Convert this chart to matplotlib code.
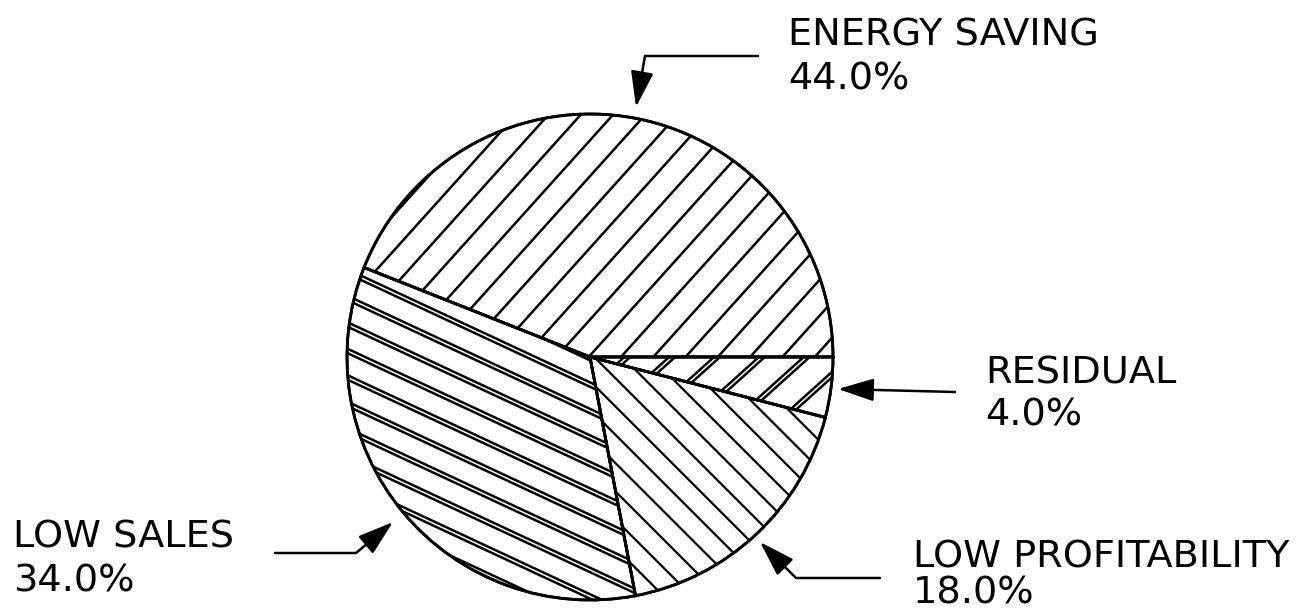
import numpy as np
import matplotlib
matplotlib.use("Agg")
import matplotlib.pyplot as plt
from matplotlib.collections import LineCollection
from matplotlib.patches import Wedge

# ---- data ----
labels = ["ENERGY SAVING", "LOW SALES", "LOW PROFITABILITY", "RESIDUAL"]
values = [44.0, 34.0, 18.0, 4.0]
pct_labels = ["44.0%", "34.0%", "18.0%", "4.0%"]

W, H = 1300, 615
fig = plt.figure(figsize=(W / 100, H / 100), dpi=100)
ax = fig.add_axes([0, 0, 1, 1])

CX, CY, R = 590, H - 357, 243

wedges, _ = ax.pie(values, startangle=0, counterclock=True, center=(CX, CY), radius=R,
                   wedgeprops=dict(facecolor="white", edgecolor="black", linewidth=2.0))
ax.set_xlim(0, W)
ax.set_ylim(0, H)
ax.set_aspect("equal")
ax.axis("off")


def hatch(wedge, angle, spacing, lw, double=None, phase=0.0):
    a = np.radians(angle)
    d = np.array([np.cos(a), np.sin(a)])
    n = np.array([-np.sin(a), np.cos(a)])
    c = np.array([CX, CY])
    segs = []
    for k in np.arange(-R - spacing + phase, R + spacing, spacing):
        offs = [k] if double is None else [k - double / 2, k + double / 2]
        for o in offs:
            p0 = c + n * o - d * (R + 10)
            p1 = c + n * o + d * (R + 10)
            segs.append([p0, p1])
    lc = LineCollection(segs, colors="black", linewidths=lw, zorder=wedge.get_zorder() + 0.1)
    ax.add_collection(lc)
    lc.set_clip_path(wedge)


hatch(wedges[0], 48, 24, 1.8, phase=4)             # energy saving
hatch(wedges[1], -25, 24, 1.8, double=4, phase=2)  # low sales
hatch(wedges[2], -45, 20, 1.6, phase=6)            # low profitability
hatch(wedges[3], 42, 30, 1.8, double=4, phase=8)   # residual

# wedge edges on top of the hatching
for w in wedges:
    ax.add_patch(Wedge(w.center, w.r, w.theta1, w.theta2, facecolor="none",
                       edgecolor="black", linewidth=2.0, zorder=5))

FS = 27.5
font = dict(fontsize=FS, family="DejaVu Sans", color="black", va="baseline", ha="left")

# label positions (pixel coords, y from top): (x, baseline1, baseline2)
pos = {
    "ENERGY SAVING": (788, 45, 90),
    "LOW SALES": (13, 547, 592),
    "LOW PROFITABILITY": (913, 568, 604),
    "RESIDUAL": (985, 383, 425),
}
for lab, pct in zip(labels, pct_labels):
    x, b1, b2 = pos[lab]
    ax.text(x, H - b1, lab, **font)
    ax.text(x, H - b2, pct, **font)

arrow_kw = dict(arrowstyle="-|>,head_length=22,head_width=7", mutation_scale=1,
                shrinkA=0, shrinkB=0, color="black", linewidth=1.8)

# energy saving arrow
ax.annotate("", xy=(636, H - 107), xytext=(758, H - 56),
            arrowprops=dict(connectionstyle="angle,angleA=0,angleB=80,rad=0", **arrow_kw))
# residual arrow
ax.annotate("", xy=(838, H - 389), xytext=(955, H - 392),
            arrowprops=dict(connectionstyle="arc3,rad=0", **arrow_kw))
# low profitability arrow
ax.annotate("", xy=(760, H - 542), xytext=(880, H - 578),
            arrowprops=dict(connectionstyle="angle,angleA=0,angleB=135,rad=0", **arrow_kw))
# low sales arrow
ax.annotate("", xy=(393, H - 522), xytext=(275, H - 553),
            arrowprops=dict(connectionstyle="angle,angleA=0,angleB=40,rad=0", **arrow_kw))

fig.savefig("out.png", dpi=100, facecolor="white")
